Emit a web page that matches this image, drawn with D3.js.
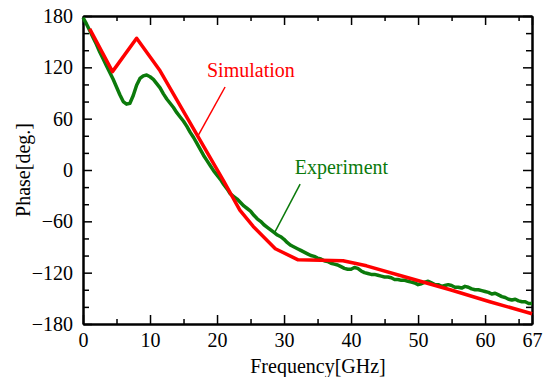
<!DOCTYPE html>
<html lang="en">
  <head>
    <meta charset="utf-8">
    <title>Phase vs Frequency</title>
    <script src="https://d3js.org/d3.v7.min.js"></script>
    <style type="text/css">
      body {
        margin: 0;
        background-color: white;
      }
      .axis path, .axis line {
        stroke: black;
      }
      .axis path {
        stroke-width: 2px;
      }
      .axis line {
        stroke-width: 1.5px;
      }
    </style>
  </head>
  <body>
    <svg></svg>
    <script type="text/javascript">

    // simulation curve (red)
    const simFreq  = [1, 4.4, 8, 11.5, 21, 23.4, 25.4, 28.7, 32.1, 38.8, 42.3, 48.5, 54.8, 60.7, 67];
    const simPhase = [165, 115, 154, 116, -13, -47, -66, -92, -105, -106, -112, -126, -140, -154, -168];

    // measured curve (green)
    const expFreq = [0, 0.5, 1, 1.5, 2, 2.5, 3, 3.5, 4, 4.5, 5, 5.5, 6, 6.5, 7, 7.5, 8, 8.5, 9, 9.5,
      10, 10.5, 11, 11.5, 12, 12.5, 13, 13.5, 14, 14.5, 15, 15.5, 16, 16.5, 17, 17.5, 18, 18.5, 19, 19.5,
      20, 20.5, 21, 21.5, 22, 22.5, 23, 23.5, 24, 24.5, 25, 25.5, 26, 26.5, 27, 27.5, 28, 28.5, 29, 29.5,
      30, 30.5, 31, 31.5, 32, 32.5, 33, 33.5, 34, 34.5, 35, 35.5, 36, 36.5, 37, 37.5, 38, 38.5, 39, 39.5,
      40, 40.5, 41, 41.5, 42, 42.5, 43, 43.5, 44, 44.5, 45, 45.5, 46, 46.5, 47, 47.5, 48, 48.5, 49, 49.5,
      50, 50.5, 51, 51.5, 52, 52.5, 53, 53.5, 54, 54.5, 55, 55.5, 56, 56.5, 57, 57.5, 58, 58.5, 59, 59.5,
      60, 60.5, 61, 61.5, 62, 62.5, 63, 63.5, 64, 64.5, 65, 65.5, 66, 66.5, 67];
    const expPhase = [178, 171, 163, 155, 147, 138, 130, 122, 114, 106, 97, 88, 80, 77, 78, 87, 99, 107, 110, 111,
      109, 106, 101, 96, 89, 83, 78, 73, 67, 62, 57, 51, 44, 38, 31, 24, 17, 11, 5, -1,
      -6, -11, -17, -22, -28, -31, -34, -38, -42, -45, -48, -53, -57, -60, -64, -67, -70, -73, -76, -78,
      -81, -85, -88, -90, -92, -94, -96, -98, -100, -101, -103, -104, -106, -107, -109, -110, -111, -113, -115, -116,
      -116, -114, -115, -118, -120, -121, -122, -122, -123, -124, -125, -125, -126, -128, -128, -129, -129, -130, -131, -132,
      -134, -133, -131, -130, -132, -134, -134, -136, -135, -134, -135, -137, -137, -138, -136, -137, -139, -140, -140, -141,
      -142, -143, -145, -144, -146, -148, -149, -151, -152, -151, -153, -154, -154, -156, -156];

    const xTicks = [0, 10, 20, 30, 40, 50, 60, 67];
    const xMinor = [5, 15, 25, 35, 45, 55, 65];
    const yTicks = [-180, -120, -60, 0, 60, 120, 180];
    const yMinor = [-160, -140, -100, -80, -40, -20, 20, 40, 80, 100, 140, 160];

    const serif = '"Liberation Serif", "Times New Roman", Times, serif';

    const width = 545, height = 377;
    const margin = {top: 16, right: 13, bottom: 53, left: 83};

    const svg = d3.select("svg")
      .attr("width", width)
      .attr("height", height)
      .attr("font-family", serif)
      .attr("font-size", 20);

    const x = d3.scaleLinear().domain([0, 67]).range([margin.left, width - margin.right]);
    const y = d3.scaleLinear().domain([-180, 180]).range([height - margin.bottom, margin.top]);

    const sim = simFreq.map((f, i) => [f, simPhase[i]]);
    const exp = expFreq.map((f, i) => [f, expPhase[i]]);

    const line = d3.line().x(d => x(d[0])).y(d => y(d[1]));

    // ticks all point into the plot
    const addAxis = (axis, tx, ty, ticks, size, labels) => {
      const g = svg.append("g")
        .attr("class", "axis")
        .attr("transform", "translate(" + [tx, ty] + ")")
        .call(axis.tickValues(ticks).tickSizeInner(size).tickSizeOuter(0).tickPadding(labels ? 10 : 0)
          .tickFormat(labels ? d3.format("d") : ""));
      g.attr("font-family", serif).attr("font-size", 20);
      g.selectAll("text").attr("fill", "black").style("font-family", serif).style("font-size", "20px");
      return g;
    };

    const bottom = height - margin.bottom, right = width - margin.right;
    addAxis(d3.axisBottom(x), 0, bottom, xMinor, -5, false);
    addAxis(d3.axisBottom(x), 0, bottom, xTicks, -9, true).selectAll("text").attr("dy", "0.72em").attr("y", 9);
    addAxis(d3.axisTop(x), 0, margin.top, xMinor, -5, false);
    addAxis(d3.axisTop(x), 0, margin.top, xTicks, -9, false);
    addAxis(d3.axisLeft(y), margin.left, 0, yMinor, -6, false);
    addAxis(d3.axisLeft(y), margin.left, 0, yTicks, -9, true).selectAll("text").attr("x", -10);
    addAxis(d3.axisRight(y), right, 0, yMinor, -6, false);
    addAxis(d3.axisRight(y), right, 0, yTicks, -9, false);

    // curves
    svg.append("path")
      .datum(exp)
      .attr("d", line)
      .attr("fill", "none")
      .attr("stroke", "#0b7a0b")
      .attr("stroke-width", 3.5)
      .attr("stroke-linejoin", "round");

    svg.append("path")
      .datum(sim)
      .attr("d", line)
      .attr("fill", "none")
      .attr("stroke", "#ff0000")
      .attr("stroke-width", 3.5)
      .attr("stroke-linejoin", "round");

    // labels with pointer lines
    const notes = [
      {text: "Simulation", color: "#ff0000", at: [18.5, 108.7], from: [21.2, 97], to: [17.2, 40.4]},
      {text: "Experiment", color: "#0b7a0b", at: [31.6, -4.7], from: [32.4, -16.4], to: [28.65, -72.4]}
    ];

    svg.selectAll(".pointer")
      .data(notes)
      .enter()
      .append("line")
      .attr("class", "pointer")
      .attr("x1", d => x(d.from[0]))
      .attr("y1", d => y(d.from[1]))
      .attr("x2", d => x(d.to[0]))
      .attr("y2", d => y(d.to[1]))
      .attr("stroke", d => d.color)
      .attr("stroke-width", 1.5);

    svg.selectAll(".note")
      .data(notes)
      .enter()
      .append("text")
      .attr("class", "note")
      .attr("x", d => x(d.at[0]))
      .attr("y", d => y(d.at[1]))
      .attr("fill", d => d.color)
      .style("font-family", serif)
      .text(d => d.text);

    // axis titles
    svg.append("text")
      .attr("x", 318)
      .attr("y", 373)
      .attr("text-anchor", "middle")
      .style("font-family", serif)
      .text("Frequency[GHz]");

    svg.append("text")
      .attr("transform", "translate(30," + ((margin.top + bottom) / 2) + ") rotate(-90)")
      .attr("text-anchor", "middle")
      .style("font-family", serif)
      .text("Phase[deg.]");

    </script>
  </body>
</html>
